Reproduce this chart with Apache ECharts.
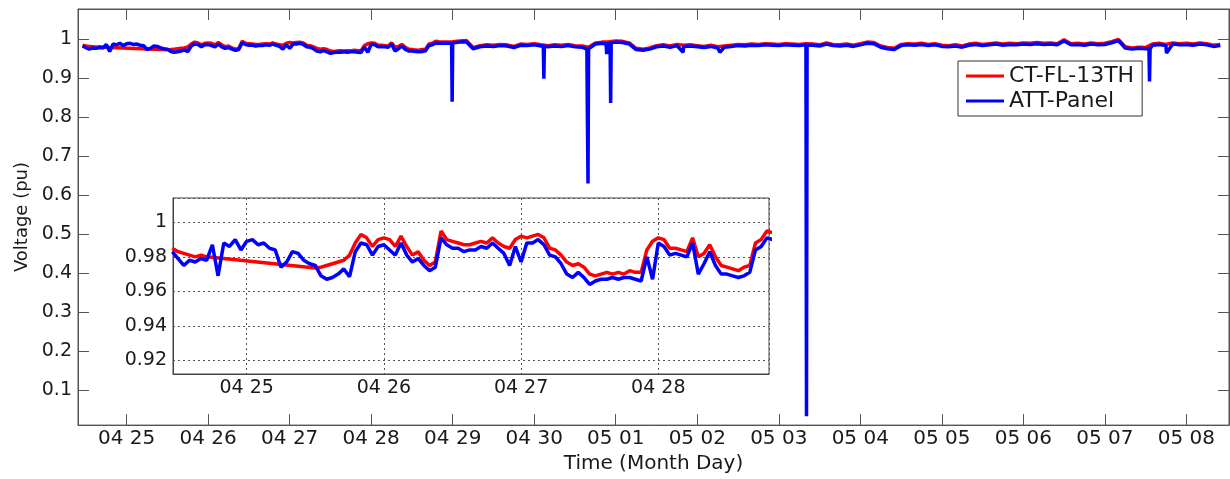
<!DOCTYPE html>
<html>
<head>
<meta charset="utf-8">
<script src="https://cdn.jsdelivr.net/npm/echarts@6/dist/echarts.min.js"></script>
<style>
html, body { margin: 0; padding: 0; background: #fff; }
#chart { width: 1230px; height: 479px; }
</style>
</head>
<body>
<div id="chart"></div>
<script>
// hourly readings, 04 24 11:00 .. 04 28 20:00 (null = CT logger gap)
const hourlyStart = '2013-04-24T11:00:00';
const ctHourly = [
    0.985, 0.983, 0.982, 0.981, 0.980, 0.981, 0.980,
    null, null, null, null, null, null, null, null, null, null, null, null, null, null, null, null, null, null,
    0.9735, 0.974, 0.975, 0.976, 0.977, 0.978, 0.981, 0.988, 0.993, 0.991,
    0.986, 0.990, 0.991, 0.990, 0.986, 0.992, 0.986, 0.981, 0.983, 0.978,
    0.975, 0.977, 0.995, 0.990, 0.989, 0.988, 0.987, 0.987, 0.988, 0.989,
    0.988, 0.991, 0.988, 0.986, 0.985, 0.990, 0.992, 0.991, 0.992, 0.993,
    0.991, 0.985, 0.984, 0.981, 0.977, 0.975, 0.976, 0.974, 0.970, 0.969,
    0.970, 0.971, 0.970, 0.971, 0.970, 0.972, 0.971, 0.971, 0.984, 0.989,
    0.991, 0.990, 0.985, 0.985, 0.984, 0.983, 0.991, 0.980, 0.982, 0.987,
    0.980, 0.975, 0.974, 0.973, 0.972, 0.974, 0.975, 0.988, 0.990, 0.995,
    0.994
];
const attHourly = [
    0.983, 0.979, 0.975, 0.978, 0.977, 0.979, 0.978, 0.987, 0.969, 0.988,
    0.986, 0.990, 0.984, 0.989, 0.990, 0.987, 0.988, 0.985, 0.984, 0.974,
    0.977, 0.983, 0.982, 0.978, 0.976, 0.975, 0.969, 0.967, 0.968, 0.970,
    0.973, 0.9685, 0.983, 0.988, 0.987, 0.981, 0.986, 0.987, 0.984, 0.981,
    0.988, 0.981, 0.977, 0.979, 0.975, 0.972, 0.974, 0.991, 0.987, 0.985,
    0.985, 0.983, 0.984, 0.984, 0.986, 0.985, 0.988, 0.985, 0.982, 0.975,
    0.986, 0.977, 0.988, 0.988, 0.990, 0.987, 0.981, 0.980, 0.976, 0.970,
    0.968, 0.971, 0.968, 0.964, 0.966, 0.967, 0.967, 0.968, 0.967, 0.968,
    0.968, 0.967, 0.966, 0.980, 0.967, 0.988, 0.986, 0.981, 0.982, 0.981,
    0.980, 0.988, 0.970, 0.976, 0.983, 0.975, 0.970, 0.970, 0.969, 0.968,
    0.969, 0.971, 0.984, 0.986, 0.991, 0.990
];

// two-hourly readings, 04 28 22:00 .. 05 08 10:00
const twoHourStart = '2013-04-28T22:00:00';
const ctTwoHour = [
    0.993, 0.994, 0.996, 0.997, 0.979, 0.984, 0.986, 0.985, 0.987, 0.986,
    0.982, 0.988, 0.987, 0.989, 0.986, 0.984, 0.986, 0.985, 0.987, 0.984,
    0.983, 0.980, 0.991, 0.993, 0.994, 0.996, 0.995, 0.991, 0.977, 0.975,
    0.978, 0.984, 0.986, 0.983, 0.987, 0.985, 0.986, 0.984, 0.982, 0.985,
    0.981, 0.983, 0.985, 0.987, 0.986, 0.988, 0.987, 0.989, 0.988, 0.987,
    0.989, 0.988, 0.987, 0.989, 0.988, 0.986, 0.991, 0.987, 0.986, 0.988,
    0.985, 0.989, 0.993, 0.992, 0.983, 0.979, 0.977, 0.987, 0.989, 0.988,
    0.990, 0.987, 0.989, 0.985, 0.984, 0.986, 0.983, 0.988, 0.990, 0.987,
    0.989, 0.991, 0.988, 0.990, 0.989, 0.991, 0.990, 0.992, 0.990, 0.991,
    0.989, 0.999, 0.989, 0.990, 0.988, 0.991, 0.989, 0.990, 0.994, 1.000,
    0.981, 0.978, 0.980, 0.979, 0.988, 0.990, 0.987, 0.991, 0.989, 0.990,
    0.988, 0.991, 0.989, 0.985, 0.987
];
const attTwoHour = [
    0.990, 0.991, 0.993, 0.994, 0.976, 0.981, 0.983, 0.982, 0.984, 0.983,
    0.979, 0.985, 0.984, 0.986, 0.983, 0.981, 0.983, 0.982, 0.984, 0.981,
    0.980, 0.976, 0.988, 0.990, 0.991, 0.993, 0.992, 0.988, 0.974, 0.972,
    0.975, 0.981, 0.983, 0.980, 0.984, 0.982, 0.983, 0.981, 0.979, 0.982,
    0.978, 0.980, 0.982, 0.984, 0.983, 0.985, 0.984, 0.986, 0.985, 0.984,
    0.986, 0.985, 0.984, 0.986, 0.985, 0.983, 0.988, 0.984, 0.983, 0.985,
    0.982, 0.986, 0.990, 0.989, 0.980, 0.976, 0.974, 0.984, 0.986, 0.985,
    0.987, 0.984, 0.986, 0.982, 0.981, 0.983, 0.980, 0.985, 0.987, 0.984,
    0.986, 0.988, 0.985, 0.987, 0.986, 0.988, 0.987, 0.989, 0.987, 0.988,
    0.986, 0.996, 0.986, 0.987, 0.985, 0.988, 0.986, 0.987, 0.991, 0.997,
    0.978, 0.975, 0.977, 0.976, 0.985, 0.987, 0.984, 0.988, 0.986, 0.987,
    0.985, 0.988, 0.986, 0.982, 0.984
];

// short ATT-Panel sags, [time, value]
const attDips = [
    ['2013-04-28T23:40:00', 0.990], ['2013-04-28T23:50:00', 0.840],
    ['2013-04-30T02:40:00', 0.984], ['2013-04-30T02:50:00', 0.899], ['2013-04-30T03:00:00', 0.983],
    ['2013-04-30T15:30:00', 0.975], ['2013-04-30T15:40:00', 0.785], ['2013-04-30T15:50:00', 0.630],
    ['2013-04-30T21:10:00', 0.988], ['2013-04-30T21:20:00', 0.962], ['2013-04-30T21:30:00', 0.989],
    ['2013-04-30T22:20:00', 0.991], ['2013-04-30T22:30:00', 0.837], ['2013-04-30T22:40:00', 0.991],
    ['2013-05-01T19:50:00', 0.967],
    ['2013-05-02T06:40:00', 0.967],
    ['2013-05-03T08:05:00', 0.986], ['2013-05-03T08:10:00', 0.033], ['2013-05-03T08:20:00', 0.985],
    ['2013-05-07T13:00:00', 0.976], ['2013-05-07T13:10:00', 0.892], ['2013-05-07T13:20:00', 0.976],
    ['2013-05-07T18:10:00', 0.965]
];

const HOUR = 3600 * 1000;
const DAY = 24 * HOUR;

function toSeries(start, step, values) {
    const t0 = new Date(start).getTime();
    return values.map((v, i) => [t0 + i * step, v]);
}

const ctData = toSeries(hourlyStart, HOUR, ctHourly)
    .concat(toSeries(twoHourStart, 2 * HOUR, ctTwoHour));
const attData = toSeries(hourlyStart, HOUR, attHourly)
    .concat(toSeries(twoHourStart, 2 * HOUR, attTwoHour))
    .concat(attDips.map(d => [new Date(d[0]).getTime(), d[1]]))
    .sort((a, b) => a[0] - b[0]);

const font = 'DejaVu Sans';
const axisGray = '#555';
const textDark = '#1a1a1a';
const red = '#ff0000';
const blue = '#0000ff';

// "MM DD" only on midnight ticks
function dayLabel(value) {
    const d = new Date(value);
    if (d.getHours() !== 0 || d.getMinutes() !== 0) return '';
    const mm = String(d.getMonth() + 1).padStart(2, '0');
    const dd = String(d.getDate()).padStart(2, '0');
    return mm + ' ' + dd;
}

const mainX = { min: new Date('2013-04-24T09:40:00').getTime(), max: new Date('2013-05-08T12:34:00').getTime() };
const insetX = { min: new Date('2013-04-24T11:07:00').getTime(), max: new Date('2013-04-28T19:22:00').getTime() };

function lineSeries(name, data, color, axisIdx, width) {
    return {
        name: name,
        type: 'line',
        xAxisIndex: axisIdx,
        yAxisIndex: axisIdx,
        data: data,
        symbol: 'none',
        showSymbol: false,
        connectNulls: true,
        clip: true,
        lineStyle: { color: color, width: width },
        itemStyle: { color: color }
    };
}

const chart = echarts.init(document.getElementById('chart'));
chart.setOption({
    animation: false,
    backgroundColor: '#fff',
    textStyle: { fontFamily: font },
    legend: {
        left: 958,
        top: 61,
        orient: 'vertical',
        padding: [3, 8, 3, 8],
        itemGap: 1,
        itemWidth: 38,
        itemHeight: 3,
        icon: 'rect',
        borderColor: '#333',
        borderWidth: 1,
        backgroundColor: '#fff',
        textStyle: { fontSize: 22, color: textDark, fontFamily: font, lineHeight: 24 },
        data: ['CT-FL-13TH', 'ATT-Panel']
    },
    grid: [
        { left: 78, top: 9, width: 1151, height: 418, show: true, borderColor: axisGray, borderWidth: 1 },
        { left: 173, top: 198, width: 596, height: 176, show: true, borderColor: '#444', borderWidth: 1, backgroundColor: '#fff' }
    ],
    xAxis: [
        {
            type: 'time', gridIndex: 0, min: mainX.min, max: mainX.max,
            minInterval: DAY, maxInterval: DAY, splitNumber: 14,
            axisLine: { show: true, lineStyle: { color: axisGray } },
            axisTick: { show: true, inside: true, length: 11, lineStyle: { color: axisGray } },
            axisLabel: { formatter: dayLabel, margin: 4, fontSize: 20, color: textDark, fontFamily: font },
            splitLine: { show: false },
            name: 'Time (Month Day)', nameLocation: 'middle', nameGap: 26,
            nameTextStyle: { fontSize: 20, color: textDark, fontFamily: font }
        },
        {
            type: 'time', gridIndex: 0, position: 'top', min: mainX.min, max: mainX.max,
            minInterval: DAY, maxInterval: DAY, splitNumber: 14,
            axisLine: { show: true, lineStyle: { color: axisGray } },
            axisTick: { show: true, inside: true, length: 11, lineStyle: { color: axisGray } },
            axisLabel: { show: false },
            splitLine: { show: false }
        },
        {
            type: 'time', gridIndex: 1, min: insetX.min, max: insetX.max,
            minInterval: DAY, maxInterval: DAY, splitNumber: 4,
            axisLine: { show: true, lineStyle: { color: '#444' } },
            axisTick: { show: false },
            axisLabel: { formatter: dayLabel, margin: 5, fontSize: 19, color: textDark, fontFamily: font },
            splitLine: { show: true, lineStyle: { color: '#555', type: [2, 3], width: 1 } }
        }
    ],
    yAxis: [
        {
            type: 'value', gridIndex: 0, min: 0.01, max: 1.078, splitNumber: 10,
            axisLine: { show: true, lineStyle: { color: axisGray } },
            axisTick: { show: true, inside: true, length: 11, lineStyle: { color: axisGray } },
            axisLabel: { showMinLabel: false, showMaxLabel: false, margin: 6, fontSize: 19, color: textDark, fontFamily: font },
            splitLine: { show: false },
            name: 'Voltage (pu)', nameLocation: 'middle', nameGap: 47,
            nameTextStyle: { fontSize: 18, color: textDark, fontFamily: font }
        },
        {
            type: 'value', gridIndex: 0, position: 'right', min: 0.01, max: 1.078, splitNumber: 10,
            axisLine: { show: true, lineStyle: { color: axisGray } },
            axisTick: { show: true, inside: true, length: 11, lineStyle: { color: axisGray } },
            axisLabel: { show: false },
            splitLine: { show: false }
        },
        {
            type: 'value', gridIndex: 1, min: 0.9121, max: 1.0141, splitNumber: 5,
            axisLine: { show: true, lineStyle: { color: '#444' } },
            axisTick: { show: false },
            axisLabel: { showMinLabel: false, showMaxLabel: false, margin: 6, fontSize: 19, color: textDark, fontFamily: font },
            splitLine: { show: true, lineStyle: { color: '#555', type: [2, 3], width: 1 } }
        }
    ],
    series: [
        lineSeries('CT-FL-13TH', ctData, red, 0, 3.5),
        lineSeries('ATT-Panel', attData, blue, 0, 3.5),
        lineSeries('CT-FL-13TH', ctData, red, 2, 3.5),
        lineSeries('ATT-Panel', attData, blue, 2, 3.5)
    ]
});
</script>
</body>
</html>
